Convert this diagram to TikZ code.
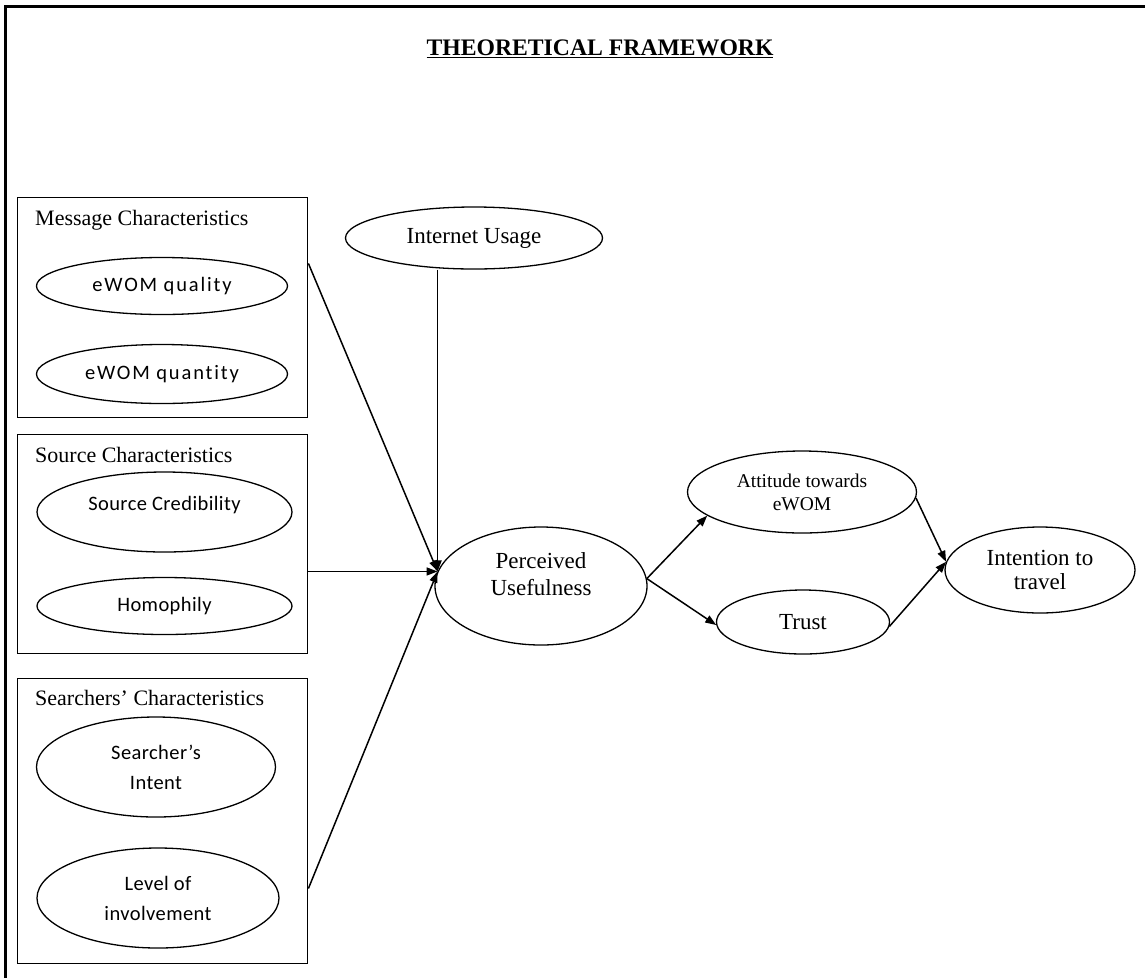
\documentclass[tikz,border=0pt]{standalone}
\usepackage{fontspec}
\setmainfont{Liberation Serif}
\newfontfamily\calib[Ligatures=NoCommon,LetterSpace=2]{Carlito}
\newfontfamily\calibw[Ligatures=NoCommon,LetterSpace=9]{Carlito}
\usetikzlibrary{shapes.geometric,arrows.meta,calc}
\begin{document}
\begin{tikzpicture}[x=1pt,y=-1pt,
  ell/.style={draw, ellipse, line width=1.3pt, inner sep=0pt},
  grp/.style={draw, rectangle, line width=1.4pt, inner sep=0pt, anchor=north west},
  conn/.style={line width=1.5pt},
  arr/.style={conn, -{Triangle[length=11pt,width=8pt]}},
  serifl/.style={font=\fontsize{23}{27}\selectfont, align=center},
  sansl/.style={font=\calib\fontsize{20.5}{30}\selectfont, align=center},
  sansw/.style={font=\calibw\fontsize{20.5}{30}\selectfont, align=center},
  grptitle/.style={font=\fontsize{22}{26}\selectfont, anchor=base west, inner sep=0pt},
]
\useasboundingbox (0,0) rectangle (1145,978);
\draw[line width=3pt] (1145,6) -- (5,6) -- (5,978);

\node[font=\bfseries\fontsize{23.7}{28}\selectfont, anchor=base, inner sep=0pt] (title) at (600,55) {\underline{THEORETICAL FRAMEWORK}};

% group boxes
\node[grp, minimum width=290pt, minimum height=220pt] (msg) at (17,197) {};
\node[grp, minimum width=290pt, minimum height=219pt] (src) at (17,434) {};
\node[grp, minimum width=290pt, minimum height=285pt] (srch) at (17,678) {};

\node[grptitle] (msgt) at ($(msg.north west)+(18,28)$) {Message Characteristics};
\node[grptitle] (srct) at ($(src.north west)+(18,28)$) {Source Characteristics};
\node[grptitle] (srcht) at ($(srch.north west)+(18,27)$) {Searchers’ Characteristics};

% inner ellipses
\node[ell, sansw, minimum width=251pt, minimum height=57pt] (q1) at (162,286) {eWOM quality};
\node[ell, sansw, minimum width=251pt, minimum height=59pt] (q2) at (162,374) {eWOM quantity};
\node[ell, minimum width=255pt, minimum height=80pt,
  label={[sansl, yshift=7pt]center:Source Credibility}] (sc) at (164.5,512) {};
\node[ell, sansl, minimum width=255pt, minimum height=57pt] (ho) at (164.5,606) {Homophily};
\node[ell, sansl, minimum width=239pt, minimum height=100pt] (si) at (156,767) {Searcher’s\\Intent};
\node[ell, sansl, minimum width=242pt, minimum height=100pt] (li) at (158,898) {Level of\\involvement};

% main constructs
\node[ell, serifl, minimum width=257pt, minimum height=62pt] (iu) at (474,238) {Internet Usage};
\node[ell, minimum width=212pt, minimum height=118pt,
  label={[serifl, yshift=12pt]center:Perceived\\Usefulness}] (pu) at (541,586) {};
\node[ell, font=\fontsize{19.5}{23}\selectfont, align=center, minimum width=229pt, minimum height=82pt] (att) at (802,492) {Attitude towards\\eWOM};
\node[ell, serifl, minimum width=173pt, minimum height=64pt] (tr) at (803,622) {Trust};
\node[ell, font=\fontsize{23}{24}\selectfont, align=center, minimum width=190pt, minimum height=86pt] (int) at (1040,570) {Intention to\\travel};

% connectors
\draw[arr] ($(msg.north east)!0.3!(msg.south east)$) -- (pu.172);
\draw[arr] (src.east |- pu.172) -- (pu.172);
\draw[arr] ($(srch.north east)!0.735!(srch.south east)$) -- (pu.172);
\draw[arr] (iu.south -| pu.172) -- (pu.172);
\draw[arr] (pu.4) -- (att.194);
\draw[arr] (pu.4) -- (tr.182);
\draw[arr] (att.357) -- (int.175);
\draw[arr] (tr.357) -- (int.175);
\end{tikzpicture}
\end{document}
